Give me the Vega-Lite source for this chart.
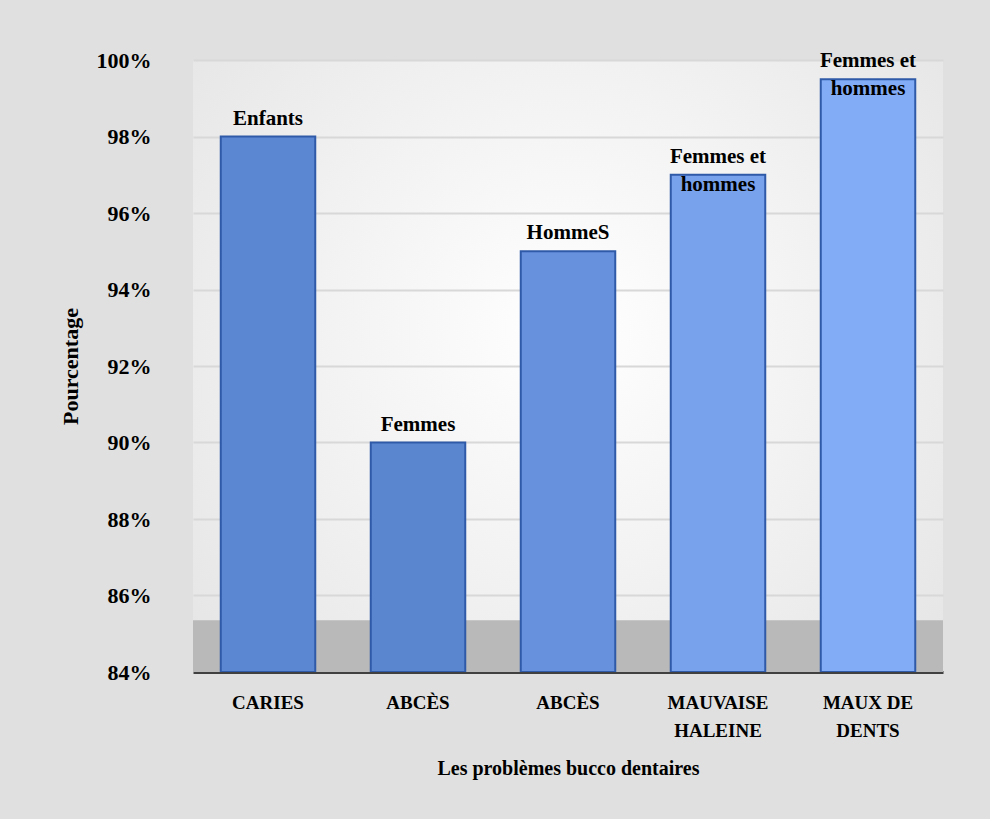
{
  "$schema": "https://vega.github.io/schema/vega-lite/v6.json",
  "width": 750,
  "height": 612,
  "autosize": {"type": "none"},
  "padding": {"left": 193, "top": 60, "right": 47, "bottom": 147},
  "background": "#e0e0e0",
  "config": {
    "font": "Liberation Serif",
    "view": {
      "stroke": null,
      "fill": {
        "gradient": "radial",
        "x1": 0.5, "y1": 0.45, "x2": 0.5, "y2": 0.45,
        "r1": 0, "r2": 0.8,
        "stops": [
          {"offset": 0, "color": "#ffffff"},
          {"offset": 1, "color": "#e0e0e0"}
        ]
      }
    },
    "text": {"lineBreak": "\n"}
  },
  "data": {
    "values": [
      {"probleme": "CARIES", "groupe": "Enfants", "pourcentage": 0.98, "rang": 1},
      {"probleme": "ABCÈS", "groupe": "Femmes", "pourcentage": 0.90, "rang": 2},
      {"probleme": "ABCÈS ", "groupe": "HommeS", "pourcentage": 0.95, "rang": 3},
      {"probleme": "MAUVAISE\nHALEINE", "groupe": "Femmes et\nhommes", "pourcentage": 0.97, "rang": 4},
      {"probleme": "MAUX DE\nDENTS", "groupe": "Femmes et\nhommes", "pourcentage": 0.995, "rang": 5}
    ]
  },
  "encoding": {
    "x": {
      "field": "probleme",
      "type": "nominal",
      "sort": null,
      "scale": {"paddingInner": 0.37, "paddingOuter": 0.185},
      "axis": {
        "title": "Les problèmes bucco dentaires",
        "labelExpr": "split(datum.label, '\\n')",
        "labelAngle": 0,
        "labelFont": "Liberation Serif",
        "labelFontSize": 19,
        "labelFontWeight": "bold",
        "labelColor": "#000000",
        "labelLineHeight": 28,
        "labelPadding": 21,
        "labelBaseline": "top",
        "ticks": false,
        "domain": true,
        "domainColor": "#404040",
        "domainWidth": 3,
        "titleFont": "Liberation Serif",
        "titleFontSize": 20,
        "titleFontWeight": "bold",
        "titleColor": "#000000",
        "titlePadding": 18
      }
    }
  },
  "layer": [
    {
      "data": {"values": [{"plancher": "sol"}]},
      "mark": {"type": "rect", "color": "#b9b9b9"},
      "encoding": {
        "x": null,
        "y": {"datum": 0.84, "type": "quantitative"},
        "y2": {"datum": 0.8535}
      }
    },
    {
      "mark": {"type": "bar", "stroke": "#2f5aa8", "strokeWidth": 2, "clip": true},
      "encoding": {
        "y": {
          "field": "pourcentage",
          "type": "quantitative",
          "scale": {"domain": [0.84, 1.0], "zero": false, "nice": false},
          "axis": {
            "title": "Pourcentage",
            "values": [0.84, 0.86, 0.88, 0.90, 0.92, 0.94, 0.96, 0.98, 1.0],
            "format": ".0%",
            "labelFont": "Liberation Serif",
            "labelFontSize": 22,
            "labelFontWeight": "bold",
            "labelColor": "#000000",
            "labelPadding": 42,
            "ticks": false,
            "domain": false,
            "grid": true,
            "gridColor": "#d8d8d8",
            "gridWidth": 2,
            "titleFont": "Liberation Serif",
            "titleFontSize": 22,
            "titleFontWeight": "bold",
            "titleColor": "#000000",
            "titlePadding": 14
          }
        },
        "y2": {"datum": 0.84},
        "color": {
          "field": "rang",
          "type": "ordinal",
          "scale": {"range": ["#5b87d2", "#5a86d0", "#6791dd", "#78a2ec", "#82acf6"]},
          "legend": null
        }
      }
    },
    {
      "mark": {
        "type": "text",
        "baseline": "bottom",
        "align": "center",
        "dy": -8,
        "font": "Liberation Serif",
        "fontSize": 21,
        "fontWeight": "bold",
        "lineHeight": 28,
        "color": "#000000"
      },
      "encoding": {
        "y": {"field": "pourcentage", "type": "quantitative"},
        "text": {"field": "groupe", "type": "nominal"}
      }
    }
  ]
}
